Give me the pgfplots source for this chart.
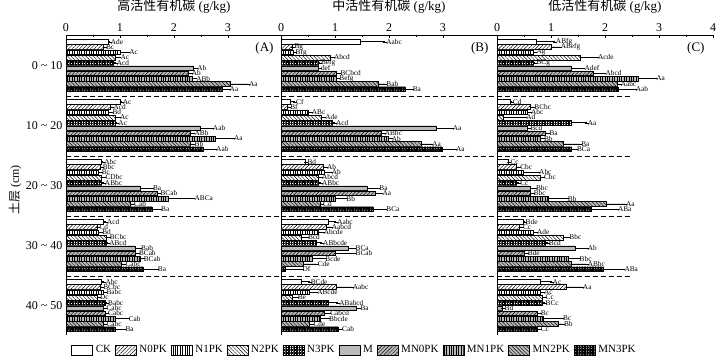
\documentclass[border=0pt]{standalone}
\usepackage{fontspec}
\setmainfont{Liberation Serif}
\newfontfamily\cjk{Noto Sans CJK SC}
\usepackage{pgfplots}
\pgfplotsset{compat=1.18}
\usepackage{pgfplotstable}
\usetikzlibrary{patterns,patterns.meta}

\pgfplotstableread{
g t v e lab
0 0 0.78 0.03 Ade
0 1 0.69 0.03 Bc
0 2 1.00 0.15 Ac
0 3 0.91 0.08 Ac
0 4 0.87 0.05 Acd
0 5 2.36 0.05 Ab
0 6 2.26 0.05 Ab
0 7 2.33 0.06 ABb
0 8 3.04 0.33 Aa
0 9 2.89 0.12 Aa
1 0 1.00 0.03 Ac
1 1 0.81 0.05 Acd
1 2 0.78 0.06 Bd
1 3 0.92 0.06 Ac
1 4 0.92 0.03 Ac
1 5 2.48 0.22 Aab
1 6 2.30 0.06 ABb
1 7 2.76 0.33 Aa
1 8 2.30 0.06 Bb
1 9 2.54 0.22 Aab
2 0 0.66 0.03 Abc
2 1 0.63 0.03 Bbc
2 2 0.60 0.04 Bc
2 3 0.66 0.05 CDbc
2 4 0.66 0.04 ABbc
2 5 1.37 0.22 Ba
2 6 1.68 0.05 BCab
2 7 1.89 0.47 ABCa
2 8 1.19 0.05 Cab
2 9 1.59 0.15 Ba
3 0 0.69 0.05 Acd
3 1 0.57 0.03 Cd
3 2 0.60 0.05 Bd
3 3 0.75 0.04 BCbc
3 4 0.75 0.03 ABcd
3 5 1.28 0.09 Bab
3 6 1.28 0.05 BCab
3 7 1.37 0.05 BCab
3 8 1.03 0.05 Cabc
3 9 1.43 0.25 Ba
4 0 0.66 0.05 Abc
4 1 0.63 0.04 BCbc
4 2 0.69 0.04 Babc
4 3 0.57 0.04 Dc
4 4 0.72 0.04 Babc
4 5 0.69 0.04 Cabc
4 6 0.72 0.04 Cabc
4 7 0.91 0.23 Cab
4 8 0.69 0.04 Cabc
4 9 0.91 0.17 Ba
}\tabA

\pgfplotstableread{
g t v e lab
0 0 1.46 0.47 Aabc
0 1 0.20 0.03 Bg
0 2 0.22 0.03 Bfg
0 3 0.91 0.05 Abcd
0 4 0.69 0.03 Befg
0 5 0.69 0.03 def
0 6 1.03 0.05 BCbcd
0 7 1.03 0.03 Befg
0 8 1.80 0.13 Bab
0 9 2.30 0.12 Ba
1 0 0.17 0.09 Cf
1 1 0.12 0.03 Bf
1 2 0.50 0.05 ABc
1 3 0.75 0.05 Ade
1 4 0.95 0.05 Acd
1 5 2.88 0.28 Aa
1 6 1.85 0.05 ABbc
1 7 1.98 0.05 Ab
1 8 2.60 0.18 Aa
1 9 2.98 0.24 Aa
2 0 0.44 0.03 Bd
2 1 0.78 0.05 Ab
2 2 0.80 0.12 Ab
2 3 0.69 0.05 Abcd
2 4 0.69 0.05 ABbc
2 5 1.59 0.21 Ba
2 6 1.74 0.12 Aa
2 7 1.00 0.19 Bb
2 8 0.72 0.04 Cd
2 9 1.70 0.23 BCa
3 0 0.87 0.15 Aabc
3 1 0.84 0.08 Aabcd
3 2 0.69 0.08 Abcde
3 3 0.38 0.10 Bcd
3 4 0.66 0.10 ABbcde
3 5 1.24 0.12 BCa
3 6 1.00 0.36 BCab
3 7 0.57 0.23 Bcde
3 8 0.41 0.25 Cde
3 9 0.07 0.31 Df
4 0 0.38 0.15 BCde
4 1 1.03 0.28 Aabc
4 2 0.53 0.12 ABcde
4 3 0.20 0.09 Be
4 4 0.87 0.19 ABabcd
4 5 1.40 0.05 Ba
4 6 0.80 0.09 Cabcd
4 7 0.72 0.15 Bbcde
4 8 0.53 0.05 Cde
4 9 1.06 0.05 Cab
}\tabB

\pgfplotstableread{
g t v e lab
0 0 0.73 0.34 ABfg
0 1 1.01 0.15 ABefg
0 2 0.67 0.04 Ag
0 3 1.54 0.31 Acde
0 4 0.67 0.04 BCg
0 5 1.38 0.22 Adef
0 6 1.78 0.21 Abcd
0 7 2.62 0.31 Aa
0 8 2.22 0.05 Aabc
0 9 2.24 0.31 Aab
1 0 0.24 0.03 Cd
1 1 0.61 0.06 BCbc
1 2 0.55 0.06 Abc
1 3 0.12 0.40 Ad
1 4 1.38 0.28 Aa
1 5 0.55 0.05 Bcd
1 6 0.89 0.06 Ba
1 7 0.80 0.05 Bb
1 8 1.23 0.31 Ba
1 9 1.38 0.08 BCa
2 0 0.20 0.03 Cc
2 1 0.36 0.05 Cbc
2 2 0.48 0.28 Abc
2 3 0.80 0.05 Cbc
2 4 0.36 0.05 Cc
2 5 0.61 0.09 Bbc
2 6 0.61 0.05 Bbc
2 7 0.95 0.34 Bb
2 8 2.03 0.34 Aa
2 9 1.75 0.47 ABa
3 0 0.48 0.03 Bde
3 1 0.41 0.05 Cc
3 2 0.67 0.05 Ade
3 3 1.23 0.09 Bbc
3 4 0.89 0.05 Bcd
3 5 1.44 0.22 Ab
3 6 0.50 0.05 Bde
3 7 1.32 0.19 Bbc
3 8 1.38 0.28 ABbc
3 9 1.97 0.37 ABa
4 0 0.80 0.21 Ac
4 1 1.29 0.28 Aa
4 2 0.80 0.05 Ac
4 3 0.83 0.05 Cc
4 4 0.83 0.05 BCc
4 5 0.09 0.03 Bd
4 6 0.74 0.05 Bc
4 7 0.86 0.34 Bc
4 8 1.13 0.09 Bb
4 9 0.74 0.05 Cc
}\tabC

\pgfplotsset{
  tr0/.style={fill=white},
  tr1/.style={fill=white, postaction={pattern={Lines[angle=45, distance=2.6pt, line width=0.45pt]}}},
  tr2/.style={fill=white, postaction={pattern={Lines[angle=90, distance=2.4pt, line width=0.45pt]}}},
  tr3/.style={fill=white, postaction={pattern={Lines[angle=-45, distance=2.6pt, line width=0.45pt]}}},
  tr4/.style={fill=white, postaction={pattern={Hatch[angle=0, distance=1.6pt, line width=0.45pt]}}},
  tr5/.style={fill=black!27},
  tr6/.style={fill=black!27, postaction={pattern={Lines[angle=45, distance=2.6pt, line width=0.45pt]}}},
  tr7/.style={fill=black!27, postaction={pattern={Lines[angle=90, distance=2.4pt, line width=0.45pt]}}},
  tr8/.style={fill=black!27, postaction={pattern={Lines[angle=-45, distance=2.6pt, line width=0.45pt]}}},
  tr9/.style={fill=black!45, postaction={pattern={Hatch[angle=0, distance=1.6pt, line width=0.45pt]}}},
  mybar/.style={xbar, bar width=4.6, bar shift=0pt, draw=black, line width=0.4pt,
    legend image code/.code={\draw[##1] (0pt,-5pt) rectangle (21pt,5pt);}},
  errs/.style={error bars/x dir=plus, error bars/x explicit,
    error bars/error bar style={black, line width=0.5pt, solid},
    error bars/error mark options={black, mark size=2pt, solid}},
  labs/.style={forget plot, draw=none, mark=none, nodes near coords,
    point meta=explicit symbolic,
    nodes near coords style={anchor=west, font=\fontsize{7.3}{7.3}\selectfont, inner sep=1pt, black}},
  panel/.style={scale only axis, width=216pt, height=300pt,
    xmin=0, xmax=4, ymin=0, ymax=300, y dir=reverse,
    axis x line*=top, axis y line*=left, tick align=inside, clip=false,
    ytick=\empty, minor x tick num=1,
    ticklabel style={font=\fontsize{12}{12}\selectfont},
    /pgf/number format/assume math mode=true,
    major tick length=3pt, minor tick length=2pt,
    every tick/.style={black},
    title style={font=\fontsize{13}{13}\selectfont, at={(0.5,1)}, anchor=south, yshift=15pt, inner sep=0pt}},
}

\newcommand{\drawpanel}[2]{%
  \pgfplotsinvokeforeach{0,...,9}{%
    \addplot[mybar, tr##1, errs, restrict expr to domain={\thisrow{t}}{##1:##1}]
      table[x=v, y expr=60*\thisrow{g}+6.7+5.26*\thisrow{t}, x error=e]{#1};
    \addplot[labs, restrict expr to domain={\thisrow{t}}{##1:##1}]
      table[x expr=\thisrow{v}+\thisrow{e}, y expr=60*\thisrow{g}+6.7+5.26*\thisrow{t}, meta=lab]{#1};
  }%
  \pgfplotsinvokeforeach{61,121,181,241}{%
    \addplot[forget plot, black, line width=0.6pt, dash pattern=on 5pt off 3pt] coordinates {(0,##1) (#2,##1)};
  }%
}

\begin{document}
\begin{tikzpicture}
\useasboundingbox (0,0) rectangle (724pt,360pt);
% Panel A
\begin{axis}[panel, at={(66pt,25pt)}, anchor=south west,
  xtick={0,1,2,3},
  title={{\cjk 高活性有机碳} (g/kg)},
  ytick={30.4,90.4,150.4,210.4,270.4},
  yticklabels={{0 \textasciitilde{} 10},{10 \textasciitilde{} 20},{20 \textasciitilde{} 30},{30 \textasciitilde{} 40},{40 \textasciitilde{} 50}},
  ylabel={{\cjk 土层} (cm)},
  ylabel style={at={(axis description cs:-0.236,0.483)}, anchor=center, font=\fontsize{12}{12}\selectfont},
  legend columns=10,
  legend entries={CK,N0PK,N1PK,N2PK,N3PK,M,MN0PK,MN1PK,MN2PK,MN3PK},
  legend style={at={(0.01,-0.05)}, anchor=west, draw=none, fill=none,
    font=\fontsize{11}{11}\selectfont,
    nodes={inner sep=1pt},
    /tikz/every odd column/.append style={column sep=2pt},
    /tikz/every even column/.append style={column sep=3pt}},
]
\drawpanel{\tabA}{4}
\node[anchor=east, font=\fontsize{13}{13}\selectfont] at (axis description cs:0.977,0.957) {(A)};
\end{axis}
% Panel B
\begin{axis}[panel, at={(281pt,25pt)}, anchor=south west,
  xtick={0,1,2,3},
  title={{\cjk 中活性有机碳} (g/kg)},
]
\drawpanel{\tabB}{4}
\node[anchor=east, font=\fontsize{13}{13}\selectfont] at (axis description cs:0.977,0.957) {(B)};
\end{axis}
% Panel C
\begin{axis}[panel, at={(497pt,25pt)}, anchor=south west,
  xtick={0,1,2,3,4},
  title={{\cjk 低活性有机碳} (g/kg)},
]
\drawpanel{\tabC}{2.46}
\node[anchor=east, font=\fontsize{13}{13}\selectfont] at (axis description cs:0.977,0.957) {(C)};
\end{axis}
\end{tikzpicture}
\end{document}
